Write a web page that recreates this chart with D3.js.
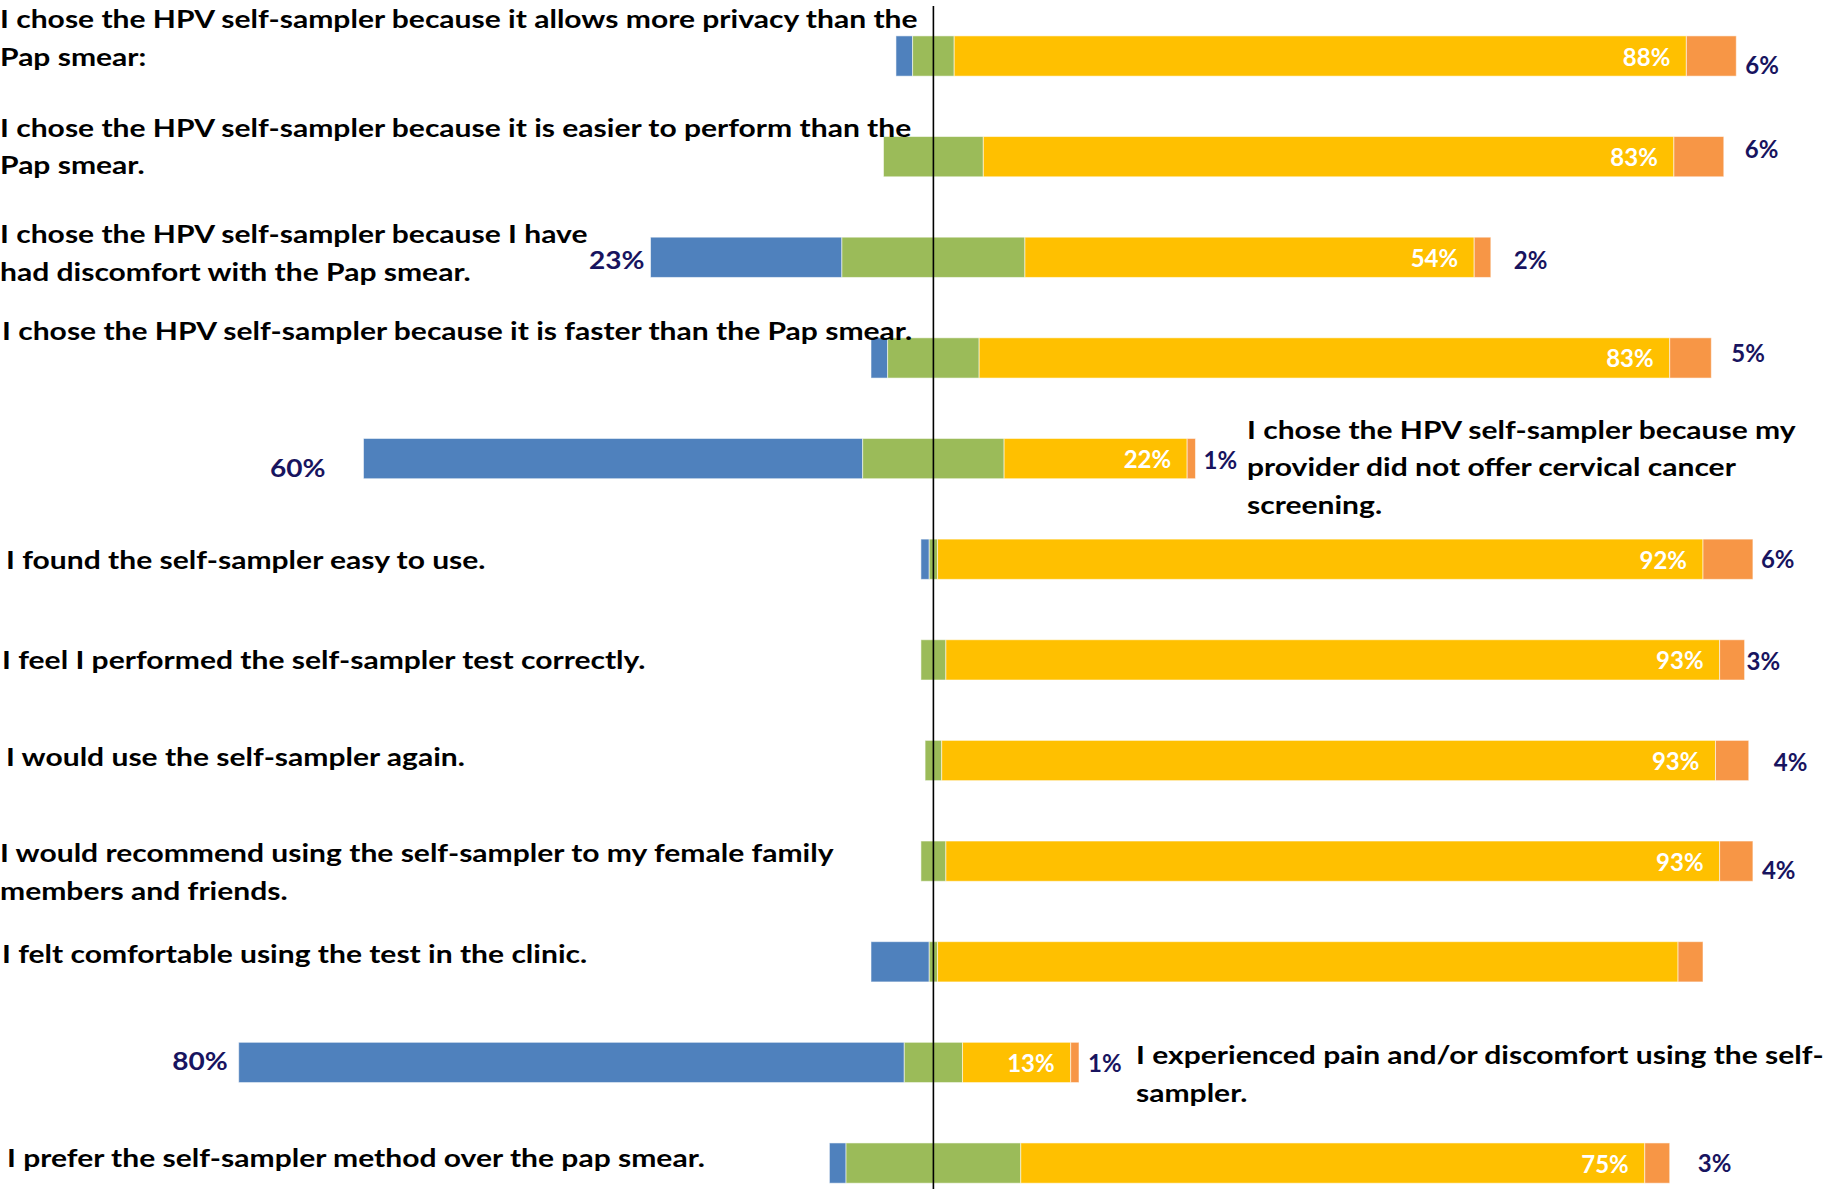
<!DOCTYPE html>
<html>
<head>
<meta charset="utf-8">
<script src="https://cdn.jsdelivr.net/npm/d3@7"></script>
<style>
  html, body { margin: 0; padding: 0; background: #fff; }
  svg { display: block; }
  text { font-family: Lato, "Open Sans", sans-serif; font-weight: 700; }
</style>
</head>
<body>
<svg id="chart" width="1825" height="1189"></svg>
<script>
// ---------------- data ----------------
const categories = [
  ["I chose the HPV self-sampler because it allows more privacy than the", "Pap smear:"],
  ["I chose the HPV self-sampler because it is easier to perform than the", "Pap smear."],
  ["I chose the HPV self-sampler because I have", "had discomfort with the Pap smear."],
  ["I chose the HPV self-sampler because it is faster than the Pap smear."],
  ["I chose the HPV self-sampler because my", "provider did not offer cervical cancer", "screening."],
  ["I found the self-sampler easy to use."],
  ["I feel I performed the self-sampler test correctly."],
  ["I would use the self-sampler again."],
  ["I would recommend using the self-sampler to my female family", "members and friends."],
  ["I felt comfortable using the test in the clinic."],
  ["I experienced pain and/or discomfort using the self-", "sampler."],
  ["I prefer the self-sampler method over the pap smear."]
];
const disagree = [2, 0, 23, 2, 60, 1, 0, 0, 0, 7, 80, 2];   // blue
const neutral  = [5, 12, 22, 11, 17, 1, 3, 2, 3, 1, 7, 21]; // green (centred on 0)
const agree    = [88, 83, 54, 83, 22, 92, 93, 93, 93, 89, 13, 75]; // yellow
const other    = [6, 6, 2, 5, 1, 6, 3, 4, 4, 3, 1, 3];      // orange
const showDisagreeLabel = [false, false, true, false, true, false, false, false, false, false, true, false];
const showAgreeLabel    = [true, true, true, true, true, true, true, true, true, false, true, true];
const showOtherLabel    = [true, true, true, true, true, true, true, true, true, false, true, true];

// ---------------- layout (not data) ----------------
const labelLayout = [
  {x: 0, dy: -28}, {x: 0, dy: -20}, {x: 0, dy: -14}, {x: 2, dy: -18},
  {x: 1247, dy: -20}, {x: 6, dy: 10}, {x: 2, dy: 9}, {x: 6, dy: 5},
  {x: 0, dy: 1}, {x: 2, dy: 1}, {x: 1136, dy: 2}, {x: 7, dy: 4}
];
const otherLabelLayout = [
  {dx: 9, dy: 18}, {dx: 21, dy: 1}, {dx: 23, dy: 12}, {dx: 20, dy: 4},
  {dx: 8, dy: 10}, {dx: 8, dy: 9}, {dx: 2, dy: 10}, {dx: 25, dy: 10},
  {dx: 9, dy: 18}, {dx: 0, dy: 0}, {dx: 9, dy: 10}, {dx: 28, dy: 9}
];
const disagreeLabelLayout = {2: {dx: 6, dy: 12}, 4: {dx: 38, dy: 18}, 10: {dx: 11, dy: 8}};
const catScaleX = 1.178;   // horizontal stretch of category text
const blueScaleX = 1.1;

const colors = {disagree: "#4F81BD", neutral: "#9BBB59", agree: "#FFC000", other: "#F79646"};
const navy = "#18145f";

const W = 1825, H = 1189;
const svg = d3.select("#chart");

const x = d3.scaleLinear().domain([-110, 110]).range([933.4 - 915.2, 933.4 + 915.2]);
const y = d3.scaleBand().domain(d3.range(categories.length))
  .range([5.7, 1213.4]).paddingInner(0.6).paddingOuter(0.3);

const rows = categories.map((c, i) => {
  const s0 = -(disagree[i] + neutral[i] / 2);
  const s1 = s0 + disagree[i];
  const s2 = s1 + neutral[i];
  const s3 = s2 + agree[i];
  const s4 = s3 + other[i];
  return {i, c, segs: [
    {k: "disagree", a: s0, b: s1},
    {k: "neutral", a: s1, b: s2},
    {k: "agree", a: s2, b: s3},
    {k: "other", a: s3, b: s4}
  ], s0, s3, s4};
});

// bars
const g = svg.append("g");
rows.forEach(r => {
  g.selectAll(null).data(r.segs.filter(s => s.b > s.a)).enter().append("rect")
    .attr("x", s => x(s.a))
    .attr("width", s => x(s.b) - x(s.a))
    .attr("y", y(r.i))
    .attr("height", y.bandwidth())
    .attr("fill", s => colors[s.k])
    .attr("stroke", "rgba(255,255,255,0.55)")
    .attr("stroke-width", 1);
});

// zero line
svg.append("line")
  .attr("x1", x(0)).attr("x2", x(0))
  .attr("y1", 6).attr("y2", H)
  .attr("stroke", "#000").attr("stroke-width", 1.6);

const fmt = v => v + "%";
const mid = i => y(i) + y.bandwidth() / 2;

// value labels
rows.forEach(r => {
  const i = r.i;
  if (showAgreeLabel[i]) {
    svg.append("text").attr("x", x(r.s3) - 16).attr("y", mid(i) + 9.5)
      .attr("text-anchor", "end").attr("fill", "#fff").attr("font-size", 24)
      .text(fmt(agree[i]));
  }
  if (showOtherLabel[i]) {
    const L = otherLabelLayout[i];
    svg.append("text").attr("x", x(r.s4) + L.dx).attr("y", mid(i) + L.dy)
      .attr("text-anchor", "start").attr("fill", navy).attr("font-size", 24)
      .text(fmt(other[i]));
  }
  if (showDisagreeLabel[i]) {
    const L = disagreeLabelLayout[i];
    svg.append("text")
      .attr("transform", `translate(${x(r.s0) - L.dx},${mid(i) + L.dy}) scale(${blueScaleX},1)`)
      .attr("text-anchor", "end").attr("fill", navy).attr("font-size", 25.5)
      .text(fmt(disagree[i]));
  }
});

// category labels
rows.forEach(r => {
  const L = labelLayout[r.i];
  const t = svg.append("text").attr("fill", "#000").attr("font-size", 25.5)
    .attr("transform", `translate(${L.x},${mid(r.i) + L.dy}) scale(${catScaleX},1)`);
  r.c.forEach((line, j) => {
    t.append("tspan").attr("x", 0).attr("dy", j === 0 ? 0 : 37.5).text(line);
  });
});
</script>
</body>
</html>
